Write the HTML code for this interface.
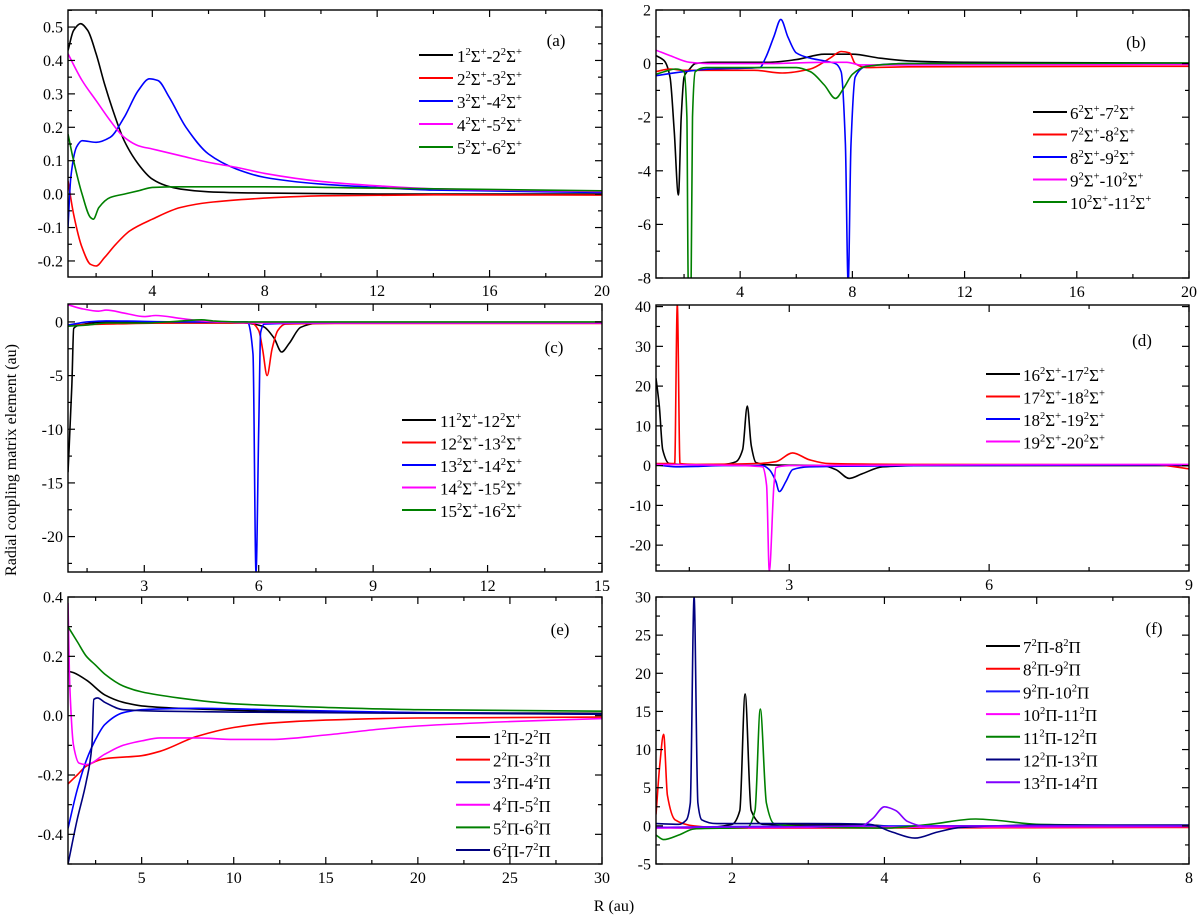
<!DOCTYPE html>
<html><head><meta charset="utf-8"><style>
html,body{margin:0;padding:0;background:#fff}
svg{display:block}
text{font-family:"Liberation Serif",serif;fill:#000}
</style></head><body>
<svg id="fig" width="1200" height="917" viewBox="0 0 1200 917" xmlns="http://www.w3.org/2000/svg">
<text x="0" y="0" transform="translate(16,460) rotate(-90)" text-anchor="middle" font-size="16">Radial coupling matrix element (au)</text>
<text x="614" y="911" text-anchor="middle" font-size="16">R (au)</text>
</svg>
<script>
// ---------- panel (a) data ----------
const aLabels=["1^2Σ^+-2^2Σ^+","2^2Σ^+-3^2Σ^+","3^2Σ^+-4^2Σ^+","4^2Σ^+-5^2Σ^+","5^2Σ^+-6^2Σ^+"];
const aS1=[[1,0.43],[1.2,0.49],[1.45,0.51],[1.7,0.49],[2,0.42],[2.3,0.33],[2.6,0.25],[3,0.16],[3.5,0.09],[4,0.045],[4.5,0.025],[5,0.015],[6,0.007],[8,0.003],[12,0.0],[20,0.0]];
const aS2=[[1,0.04],[1.2,-0.06],[1.5,-0.16],[1.8,-0.21],[2,-0.215],[2.3,-0.19],[2.7,-0.15],[3.2,-0.11],[4,-0.075],[5,-0.04],[6,-0.025],[8,-0.012],[10,-0.005],[14,-0.002],[20,-0.003]];
const aS3=[[1,-0.1],[1.1,0.05],[1.3,0.14],[1.5,0.16],[2,0.155],[2.5,0.17],[3,0.23],[3.5,0.31],[3.9,0.345],[4.2,0.34],[4.6,0.29],[5.2,0.2],[6,0.12],[7,0.075],[8,0.05],[10,0.03],[12,0.02],[14,0.012],[20,0.005]];
const aS4=[[1,0.42],[1.5,0.34],[2,0.28],[2.5,0.22],[3,0.17],[3.5,0.145],[4,0.135],[5,0.115],[6,0.095],[7,0.08],[8,0.062],[10,0.038],[12,0.025],[14,0.016],[20,0.008]];
const aS5=[[1,0.18],[1.2,0.1],[1.5,0.0],[1.8,-0.07],[1.9,-0.075],[2.1,-0.04],[2.5,-0.01],[3,0.0],[3.5,0.01],[4,0.02],[5,0.022],[8,0.022],[12,0.018],[20,0.01]];
const aXTicks=[4,8,12,16,20];
const aYTicks=[0.5,0.4,0.3,0.2,0.1,0.0,-0.1,-0.2];
// ---------- panel (b) data ----------
const bLabels=["6^2Σ^+-7^2Σ^+","7^2Σ^+-8^2Σ^+","8^2Σ^+-9^2Σ^+","9^2Σ^+-10^2Σ^+","10^2Σ^+-11^2Σ^+"];
const bS1=[[1,0.3],[1.3,0.1],[1.5,-0.5],[1.65,-2.5],[1.8,-4.9],[1.9,-2],[2.0,-0.5],[2.2,-0.2],[2.4,0.0],[3,0.05],[5,0.05],[6,0.15],[7,0.35],[8,0.35],[9,0.2],[10,0.1],[12,0.05],[20,0.02]];
const bS2=[[1,-0.3],[1.5,-0.2],[2,-0.25],[3,-0.25],[4.5,-0.25],[5.5,-0.35],[6.5,-0.2],[7.2,0.2],[7.6,0.45],[7.9,0.4],[8.1,0.0],[8.5,-0.15],[10,-0.12],[20,-0.1]];
const bS3=[[1,-0.45],[2,-0.3],[3,-0.2],[4.7,-0.15],[4.9,0.2],[5.2,1.0],[5.45,1.65],[5.7,1.0],[6,0.4],[6.5,0.2],[7,0.1],[7.4,0.0],[7.6,-0.3],[7.75,-3],[7.85,-8.2],[7.95,-3],[8.1,-0.5],[8.5,-0.1],[10,0.0],[20,0.0]];
const bS4=[[1,0.5],[1.5,0.3],[2.2,0.05],[3,0.0],[5,0.0],[7,0.05],[7.8,0.05],[8.3,-0.05],[10,-0.05],[20,-0.03]];
const bS5=[[1,-0.4],[1.3,-0.3],[1.7,-0.2],[2,-0.3],[2.1,-2],[2.15,-8.2],[2.25,-8.2],[2.3,-2],[2.4,-0.3],[2.8,-0.15],[4,-0.15],[6,-0.15],[6.5,-0.3],[7,-0.8],[7.4,-1.3],[7.7,-0.9],[8,-0.4],[8.5,-0.1],[10,0.0],[20,0.02]];
const bXTicks=[4,8,12,16,20];
const bYTicks=[2,0,-2,-4,-6,-8];
// ---------- panel (c) data ----------
const cLabels=["11^2Σ^+-12^2Σ^+","12^2Σ^+-13^2Σ^+","13^2Σ^+-14^2Σ^+","14^2Σ^+-15^2Σ^+","15^2Σ^+-16^2Σ^+"];
const cS1=[[1,-14],[1.1,-6],[1.15,-0.6],[1.3,-0.3],[2,0.0],[4,-0.1],[5.6,-0.1],[6.1,-0.4],[6.4,-1.5],[6.6,-2.8],[6.8,-2],[7.1,-0.5],[7.5,-0.15],[9,-0.1],[15,-0.1]];
const cS2=[[1,-0.3],[2,-0.2],[4,-0.1],[5.8,-0.1],[6.0,-0.8],[6.1,-2.5],[6.22,-5],[6.35,-2.5],[6.5,-0.8],[6.7,-0.2],[8,-0.15],[15,-0.15]];
const cS3=[[1,-0.3],[1.5,0],[2,0.1],[4,0.0],[5.7,0.0],[5.85,-3],[5.93,-23.3],[6.0,-10],[6.05,-1],[6.15,-0.2],[8,-0.1],[15,-0.1]];
const cS4=[[1,1.6],[1.4,1.2],[1.8,1.0],[2,1.1],[2.5,0.8],[3,0.5],[3.3,0.6],[4,0.3],[4.5,0.1],[5,0.0],[6,-0.1],[8,-0.1],[15,-0.1]];
const cS5=[[1,-0.4],[1.5,-0.3],[2,-0.1],[3,-0.1],[4,0.1],[4.5,0.2],[4.8,0.1],[5.5,0.0],[8,0.0],[15,0.0]];
const cXTicks=[3,6,9,12,15];
const cYTicks=[0,-5,-10,-15,-20];
// ---------- panel (d) data ----------
const dLabels=["16^2Σ^+-17^2Σ^+","17^2Σ^+-18^2Σ^+","18^2Σ^+-19^2Σ^+","19^2Σ^+-20^2Σ^+"];
const dS1=[[1,22],[1.05,15],[1.1,4],[1.2,0.5],[1.5,0.2],[2,0.3],[2.2,1],[2.3,4],[2.37,15],[2.43,5],[2.5,0.8],[2.7,0.2],[3.5,0.0],[3.7,-1],[3.9,-3.2],[4.1,-2],[4.4,-0.3],[5,0],[9,0]];
const dS2=[[1,0.5],[1.28,0.5],[1.32,40.4],[1.36,0.5],[1.6,0.3],[2.5,0.5],[2.8,1],[3.05,3.2],[3.3,1.5],[3.6,0.5],[5,0.3],[8.5,0.2],[9,-0.8]];
const dS3=[[1,0.2],[1.3,-0.3],[1.6,-0.2],[2,0],[2.6,0],[2.7,-1],[2.8,-4],[2.85,-6.5],[2.95,-4],[3.05,-1],[3.3,-0.3],[5,0],[9,0.2]];
const dS4=[[1,0.3],[2,0.1],[2.6,-0.3],[2.66,-5],[2.7,-26.5],[2.77,-5],[2.8,-0.5],[3,0],[9,0.3]];
const dXTicks=[3,6,9];
const dYTicks=[40,30,20,10,0,-10,-20];
// ---------- panel (e) data ----------
const eLabels=["1^2Π-2^2Π","2^2Π-3^2Π","3^2Π-4^2Π","4^2Π-5^2Π","5^2Π-6^2Π","6^2Π-7^2Π"];
const eS1=[[1,0.15],[1.3,0.145],[2,0.12],[3,0.07],[4,0.045],[5,0.033],[7,0.025],[10,0.018],[15,0.012],[20,0.01],[30,0.008]];
const eS2=[[1,-0.23],[1.5,-0.2],[2,-0.17],[3,-0.145],[5,-0.135],[6,-0.12],[8,-0.07],[10,-0.04],[12,-0.025],[15,-0.015],[20,-0.008],[30,-0.005]];
const eS3=[[1,-0.38],[1.5,-0.25],[2,-0.15],[2.5,-0.08],[3,-0.03],[4,0.01],[5,0.02],[8,0.025],[12,0.02],[20,0.01],[30,0.005]];
const eS4=[[1,0.38],[1.1,0.1],[1.3,-0.1],[1.6,-0.16],[2,-0.165],[3,-0.13],[4,-0.1],[5,-0.085],[6,-0.075],[8,-0.075],[10,-0.08],[12,-0.08],[15,-0.065],[18,-0.045],[20,-0.035],[25,-0.02],[30,-0.01]];
const eS5=[[1,0.3],[1.5,0.25],[2,0.2],[2.5,0.17],[3,0.14],[4,0.1],[5,0.08],[7,0.06],[10,0.04],[15,0.028],[20,0.02],[30,0.015]];
const eS6=[[1,-0.5],[1.5,-0.35],[2,-0.22],[2.3,-0.1],[2.4,0.055],[2.6,0.06],[3,0.045],[4,0.02],[6,0.015],[15,0.01],[30,0.005]];
const eXTicks=[5,10,15,20,25,30];
const eYTicks=[0.4,0.2,0.0,-0.2,-0.4];
// ---------- panel (f) data ----------
const fLabels=["7^2Π-8^2Π","8^2Π-9^2Π","9^2Π-10^2Π","10^2Π-11^2Π","11^2Π-12^2Π","12^2Π-13^2Π","13^2Π-14^2Π"];
const fS1=[[1,-0.2],[1.5,-0.3],[2,0.2],[2.1,2],[2.17,17.3],[2.25,2],[2.4,0.2],[3,0.1],[3.8,0.1],[4.4,-0.3],[5,0],[8,0]];
const fS2=[[1,1.5],[1.05,8],[1.1,12],[1.15,4],[1.25,0.8],[1.5,0],[2,-0.3],[8,-0.2]];
const fS3=[[1,-0.2],[2,-0.1],[4,0.0],[8,0]];
const fS4=[[1,-0.3],[3,-0.2],[8,-0.1]];
const fS5=[[1,-1.2],[1.1,-1.8],[1.3,-1.2],[1.5,-0.4],[2.2,-0.2],[2.3,2],[2.37,15.3],[2.45,3],[2.55,0.3],[3,-0.1],[4,-0.3],[4.6,0.2],[5.2,0.9],[5.5,0.7],[6,0.2],[8,0]];
const fS6=[[1,0.3],[1.3,0.2],[1.4,0.8],[1.45,3],[1.5,30],[1.55,3],[1.6,0.8],[1.8,0.3],[3,0.3],[3.8,0.2],[4.1,-0.8],[4.4,-1.6],[4.7,-0.8],[5,-0.2],[6,0.1],[8,0.1]];
const fS7=[[1,-0.2],[3.7,0],[3.85,1.0],[4.0,2.5],[4.15,2.0],[4.3,0.6],[4.5,0],[8,0]];
const fXTicks=[2,4,6,8];
const fYTicks=[30,25,20,15,10,5,0,-5];

const NS="http://www.w3.org/2000/svg";
const svg=document.getElementById('fig');
function mk(tag,attrs,parent){const e=document.createElementNS(NS,tag);for(const k in attrs)e.setAttribute(k,attrs[k]);(parent||svg).appendChild(e);return e;}
function fmt(v,dec){return v.toFixed(dec);}

function superText(t,str,size){
  let i=0,pending=0;
  while(i<str.length){
    if(str[i]==='^'){
      const ts=mk('tspan',{'font-size':size*0.62,dy:(pending-size*0.42).toFixed(2)},t);
      ts.textContent=str[i+1];pending=size*0.42;i+=2;continue;
    }
    let j=i,buf='';while(j<str.length&&str[j]!=='^'){buf+=str[j];j++;}
    const ts=mk('tspan',{dy:pending.toFixed(2)},t);ts.textContent=buf;pending=0;i=j;
  }
}

// monotone cubic path (no overshoot)
function monoPath(P){
  const n=P.length;if(n<2)return '';
  const dx=[],m=[],t=[];
  for(let i=0;i<n-1;i++){dx[i]=P[i+1][0]-P[i][0];m[i]=(P[i+1][1]-P[i][1])/(dx[i]||1e-9);}
  t[0]=m[0];t[n-1]=m[n-2];
  for(let i=1;i<n-1;i++){
    if(m[i-1]*m[i]<=0)t[i]=0;
    else{const w1=2*dx[i]+dx[i-1],w2=dx[i]+2*dx[i-1];t[i]=(w1+w2)/(w1/m[i-1]+w2/m[i]);}
  }
  let d='M'+P[0][0].toFixed(1)+','+P[0][1].toFixed(1);
  for(let i=0;i<n-1;i++){
    const h=dx[i]/3;
    d+='C'+(P[i][0]+h).toFixed(1)+','+(P[i][1]+t[i]*h).toFixed(1)+' '+(P[i+1][0]-h).toFixed(1)+','+(P[i+1][1]-t[i+1]*h).toFixed(1)+' '+P[i+1][0].toFixed(1)+','+P[i+1][1].toFixed(1);
  }
  return d;
}

function panel(cfg){
  const {id,L,R,T,B,xmin,xmax,ymin,ymax}=cfg;
  const g=mk('g',{});
  
  
  const sx=v=>L+(v-xmin)/(xmax-xmin)*(R-L);
  const sy=v=>T+(ymax-v)/(ymax-ymin)*(B-T);
  const cp=mk('clipPath',{id:'clip'+id},g);mk('rect',{x:L,y:T,width:R-L,height:B-T},cp);
  cfg.series.forEach((s,k)=>{
    const pix=s.pts.map(p=>[sx(p[0]),sy(p[1])]);
    const path=mk('path',{d:monoPath(pix),fill:'none',stroke:cfg.colors[k],'stroke-width':1.6,'stroke-linejoin':'round','clip-path':'url(#clip'+id+')'},g);
    
    
  });
  const fr=mk('rect',{x:L,y:T,width:R-L,height:B-T,fill:'none',stroke:'#000','stroke-width':1.4},g);
  
  
  const xt=mk('g',{stroke:'#000','stroke-width':1.2},g);
  for(let v=cfg.xminor0;v<=xmax+1e-9;v+=cfg.xminor){
    if(v<xmin-1e-9)continue;const X=sx(v);
    const r=(v-cfg.xmaj0)/cfg.xmajor;const isMaj=Math.abs(r-Math.round(r))<1e-6;
    const len=isMaj?7:4;
    mk('line',{x1:X,x2:X,y1:B,y2:B-len},xt);mk('line',{x1:X,x2:X,y1:T,y2:T+len},xt);
  }
  cfg.xticks.forEach(v=>{
    const t=mk('text',{x:sx(v),y:B+19,'text-anchor':'middle','font-size':16},g);t.textContent=String(v);
    
    
  });
  const yt=mk('g',{stroke:'#000','stroke-width':1.2},g);
  for(let v=cfg.yminor0;v<=ymax+1e-9;v+=cfg.yminor){
    if(v<ymin-1e-9)continue;const Y=sy(v);
    const r=(v-cfg.ymaj0)/cfg.ymajor;const isMaj=Math.abs(r-Math.round(r))<1e-6;
    const len=isMaj?7:4;
    mk('line',{x1:L,x2:L+len,y1:Y,y2:Y},yt);mk('line',{x1:R,x2:R-len,y1:Y,y2:Y},yt);
  }
  cfg.yticks.forEach(v=>{
    const t=mk('text',{x:L-5,y:sy(v)+5.5,'text-anchor':'end','font-size':16},g);t.textContent=fmt(v,cfg.ydec);
    
    
  });
  const tag=mk('text',{x:cfg.tag[0],y:cfg.tag[1],'text-anchor':'middle','font-size':17},g);tag.textContent='('+id+')';
  
  
  const lg=mk('g',{},g);
  
  
  cfg.labels.forEach((lab,k)=>{
    const y=cfg.leg[2]+k*cfg.leg[3];
    mk('line',{x1:cfg.leg[0],x2:cfg.leg[0]+34,y1:y,y2:y,stroke:cfg.colors[k],'stroke-width':2},lg);
    const t=mk('text',{x:cfg.leg[1],y:y+7,'font-size':17},lg);
    
    
    superText(t,lab,17);
  });
}

const K='#000',Rd='#ff0000',Bl='#0000ff',M='#ff00ff',G='#008000',N='#000080',V='#8000ff',RB='#1a1aff';
panel({id:'a',L:68,R:602,T:10,B:277,xmin:1,xmax:20,ymin:-0.248,ymax:0.551,xticks:aXTicks,yticks:aYTicks,ydec:1,
 xminor0:2,xminor:2,xmaj0:4,xmajor:4,yminor0:-0.25,yminor:0.05,ymaj0:0,ymajor:0.1,
 series:[{pts:aS1},{pts:aS2},{pts:aS3},{pts:aS4},{pts:aS5}],colors:[K,Rd,Bl,M,G],labels:aLabels,tag:[556,46],leg:[419,457,55,23]});
panel({id:'b',L:656,R:1189,T:10,B:278,xmin:1,xmax:20,ymin:-8,ymax:2,xticks:bXTicks,yticks:bYTicks,ydec:0,
 xminor0:2,xminor:2,xmaj0:4,xmajor:4,yminor0:-8,yminor:1,ymaj0:0,ymajor:2,
 series:[{pts:bS1},{pts:bS2},{pts:bS3},{pts:bS4},{pts:bS5}],colors:[K,Rd,Bl,M,G],labels:bLabels,tag:[1136,48],leg:[1033,1070,112,22.5]});
panel({id:'c',L:68,R:602,T:304,B:572,xmin:1,xmax:15,ymin:-23.3,ymax:1.67,xticks:cXTicks,yticks:cYTicks,ydec:0,
 xminor0:1.5,xminor:1.5,xmaj0:3,xmajor:3,yminor0:-22.5,yminor:2.5,ymaj0:0,ymajor:5,
 series:[{pts:cS1},{pts:cS2},{pts:cS3},{pts:cS4},{pts:cS5}],colors:[K,Rd,Bl,M,G],labels:cLabels,tag:[554,353],leg:[402,440,420,22.5]});
panel({id:'d',L:656,R:1189,T:305,B:571,xmin:1,xmax:9,ymin:-26.5,ymax:40.4,xticks:dXTicks,yticks:dYTicks,ydec:0,
 xminor0:1.5,xminor:1.5,xmaj0:3,xmajor:3,yminor0:-25,yminor:5,ymaj0:0,ymajor:10,
 series:[{pts:dS1},{pts:dS2},{pts:dS3},{pts:dS4}],colors:[K,Rd,Bl,M],labels:dLabels,tag:[1142,346],leg:[986,1023,374,22.5]});
panel({id:'e',L:68,R:602,T:597,B:864,xmin:1,xmax:30,ymin:-0.5,ymax:0.4,xticks:eXTicks,yticks:eYTicks,ydec:1,
 xminor0:2.5,xminor:2.5,xmaj0:5,xmajor:5,yminor0:-0.5,yminor:0.1,ymaj0:0,ymajor:0.2,
 series:[{pts:eS1},{pts:eS2},{pts:eS3},{pts:eS4},{pts:eS5},{pts:eS6}],colors:[K,Rd,Bl,M,G,N],labels:eLabels,tag:[560,635],leg:[456,493,737,22.6]});
panel({id:'f',L:656,R:1189,T:597,B:864,xmin:1,xmax:8,ymin:-5,ymax:30,xticks:fXTicks,yticks:fYTicks,ydec:0,
 xminor0:1,xminor:1,xmaj0:2,xmajor:2,yminor0:-5,yminor:2.5,ymaj0:0,ymajor:5,
 series:[{pts:fS1},{pts:fS2},{pts:fS3},{pts:fS4},{pts:fS5},{pts:fS6},{pts:fS7}],colors:[K,Rd,RB,M,G,N,V],labels:fLabels,tag:[1154,634],leg:[986,1023,646,22.7]});
</script>
</body></html>
